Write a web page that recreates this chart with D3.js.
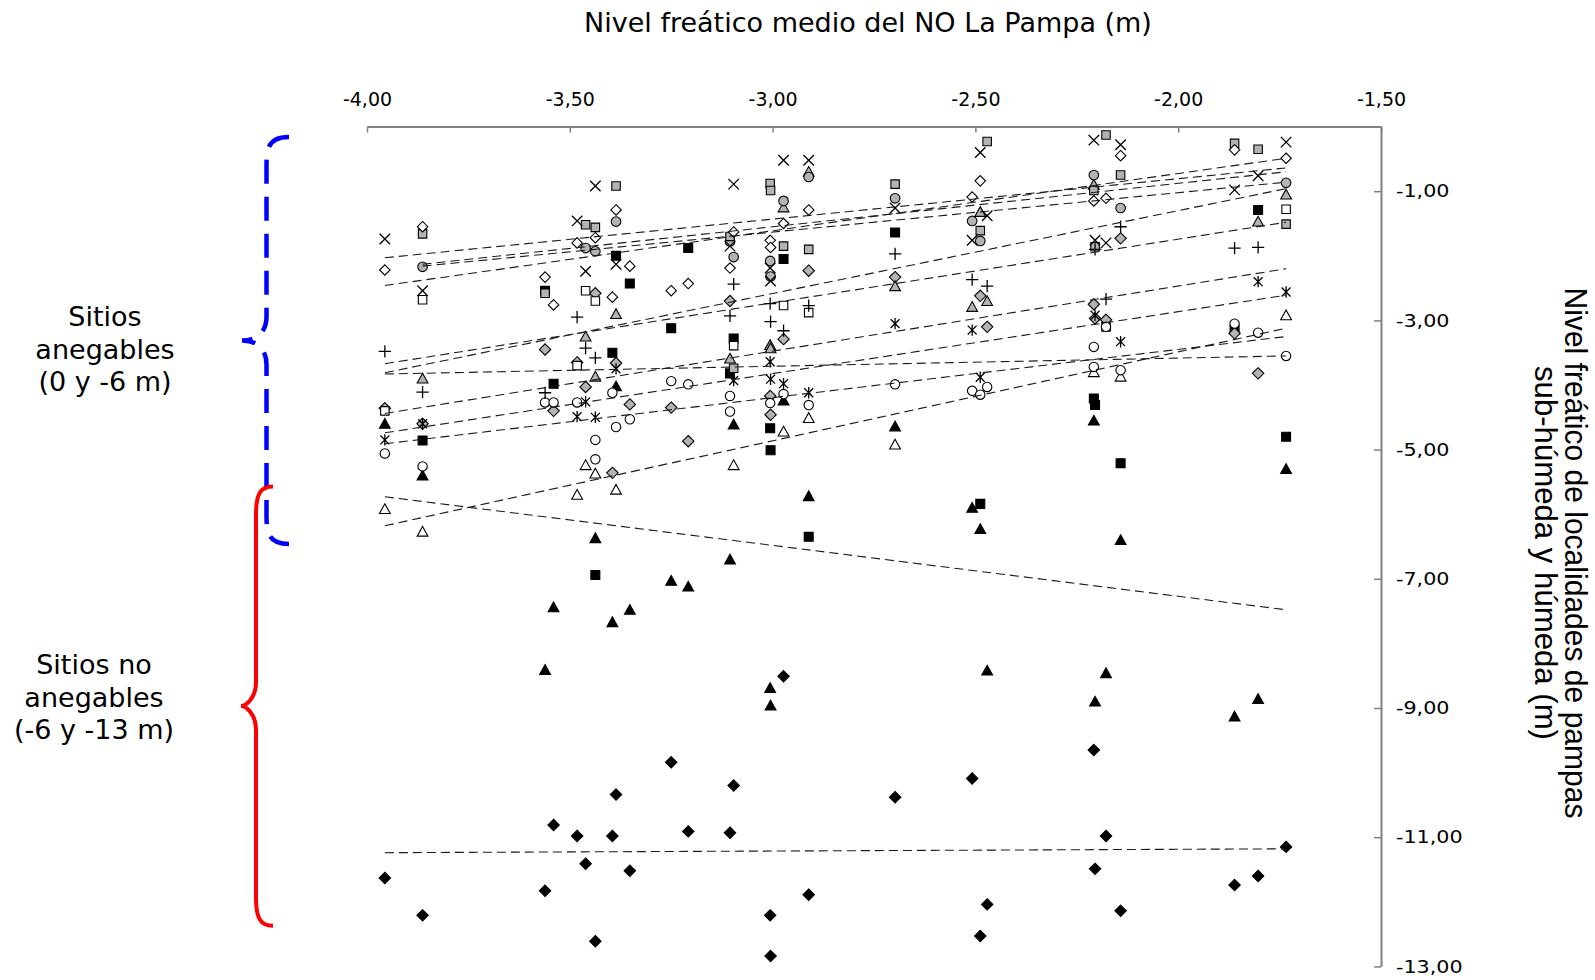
<!DOCTYPE html>
<html>
<head>
<meta charset="utf-8">
<script src="https://cdn.jsdelivr.net/npm/d3@7"></script>
<style>
  body { margin: 0; background: #fff; }
  svg { display: block; }
</style>
</head>
<body>
<svg id="chart" width="1595" height="980"></svg>
<script>
// Mean water table of NO La Pampa (m), one value per year
const nivelMedio = [-3.956, -3.863, -3.561, -3.540, -3.482, -3.461, -3.437, -3.395, -3.386, -3.352,
                    -3.250, -3.208, -3.105, -3.096, -3.006, -3.005, -2.973, -2.911, -2.698, -2.508,
                    -2.488, -2.471, -2.208, -2.205, -2.178, -2.142, -1.861, -1.803, -1.734];

// Water table of each locality (m), aligned with nivelMedio
const cruz =            [-1.74, -2.54, null, null, -1.46, -2.24, -0.92, null, -2.13, null, null, null, -1.85, -0.89, -2.19, -2.39, -0.52, -0.52, -1.26, -1.76, -0.40, -1.38, -0.21, -1.76, -1.80, -0.28, -0.98, -0.76, -0.24];
const grisCuadradoA =   [null, -1.66, -2.58, null, null, -1.52, null, null, -0.92, null, null, null, -1.70, null, -0.88, null, -1.85, null, -0.89, null, -1.61, -0.23, -0.99, null, -0.13, null, -0.26, -0.35, null];
const grisCuadradoB =   [null, null, null, null, null, null, -1.56, null, null, null, null, null, null, -3.74, null, -0.99, null, -1.90, null, null, null, null, null, -1.86, null, -0.75, null, null, -1.51];
const rombo =           [-2.22, -1.55, -2.33, -2.76, -1.80, null, -1.72, -2.64, -1.29, -2.16, -2.54, -2.43, -2.19, -1.63, -1.76, -1.87, -1.50, -1.29, null, -1.09, -0.84, null, -1.15, null, -1.11, -0.45, -0.36, null, -0.49];
const grisCirculo =     [null, -2.17, null, null, null, -1.88, -1.93, null, -1.47, null, null, null, -1.78, -2.02, -2.08, -2.32, -1.15, -0.78, -1.11, -1.46, -1.77, null, -0.75, null, null, -1.26, null, null, -0.87];
const negroCuadrado =   [null, -4.86, -2.54, -3.98, null, null, -6.94, -3.50, -2.00, -2.43, -3.12, -1.88, -3.82, -3.28, -4.67, -5.01, -2.05, -6.35, -1.64, null, -5.84, null, -4.21, -4.31, null, -5.21, -3.15, -1.29, -4.80];
const mas =             [-3.48, -4.11, -4.12, null, -2.95, -3.43, -3.58, null, null, null, null, null, -2.93, -2.44, -2.74, -3.02, -3.16, -2.77, -1.97, -2.37, null, -2.47, null, -1.90, -2.67, -1.55, -1.88, -1.87, null];
const cuadrado =        [-4.40, -2.68, null, null, -3.70, -2.54, -2.70, null, null, null, null, null, null, -3.39, null, null, -2.77, -2.88, null, null, null, null, null, null, -3.10, null, null, null, -1.28];
const grisTriangulo =   [null, -3.90, null, null, null, -3.25, -3.87, null, -2.90, null, null, null, -3.59, null, -3.38, -3.43, -1.25, -0.70, -2.47, -2.79, -1.32, -2.70, -0.90, null, null, null, null, -1.47, -1.05];
const grisRombo =       [-4.36, -4.60, -3.45, -4.40, -3.65, -4.03, -2.58, -5.36, -3.66, -4.30, -4.35, -4.87, -2.70, null, -4.17, -4.46, -3.29, -2.23, -2.33, null, -2.62, -3.10, -2.75, -2.97, -2.99, -1.73, -3.20, -3.82, null];
const negroTriangulo =  [-4.60, -5.40, -8.41, -7.44, null, null, -6.37, -7.67, -4.02, -7.48, -7.03, -7.12, -6.70, -4.61, -8.69, -8.96, -4.24, -5.72, -4.64, -5.90, -6.23, -8.42, -4.55, -8.90, -8.46, -6.40, -9.13, -8.86, -5.30];
const asterisco =       [-4.85, -4.60, null, null, -4.49, -4.26, -4.50, null, -3.75, null, null, null, null, -3.93, -3.64, -3.91, -3.98, -4.12, -3.05, -3.15, -3.88, null, null, -2.92, null, -3.33, null, -2.40, -2.56];
const circulo =         [-5.06, -5.26, -4.27, -4.27, -4.27, null, -4.85, -4.12, -4.65, -4.53, -3.94, -3.99, -4.17, null, -4.28, null, -4.14, -4.31, -3.99, -4.09, -4.15, -4.03, -3.41, null, -3.10, -3.77, -3.05, -3.19, -3.55];
const circuloB =        [null, null, null, null, null, null, -5.15, null, null, null, null, null, -4.41, null, null, null, null, null, null, null, null, null, -3.72, null, null, null, null, null, null];
const triangulo =       [-5.92, -6.27, null, null, -5.70, -5.24, -5.37, null, -5.62, null, null, null, null, -5.24, null, null, -4.72, -4.51, -4.92, null, null, null, -3.80, null, null, -3.87, null, null, -2.92];
const negroRombo =      [-11.63, -12.21, -11.83, -10.81, -10.98, -11.41, -12.61, -10.98, -10.34, -11.52, -9.84, -10.91, -10.93, -10.20, -12.21, -12.84, -8.51, -11.89, -10.38, -10.09, -12.53, -12.04, -9.65, -11.49, -10.98, -12.14, -11.74, -11.60, -11.15];

// Linear trend lines: start / end x and the fitted values there
const tendDesde  = [-3.956, -3.863, -3.863, -3.956, -3.956, -3.956, -3.956, -3.956, -3.956, -3.956, -3.956, -3.956, -3.956];
const tendHasta  = [-1.734, -1.734, -1.734, -1.734, -1.734, -1.734, -1.734, -1.734, -1.734, -1.734, -1.734, -1.734, -1.734];
const tendInicio = [-2.03, -2.13, -2.16, -2.46, -3.81, -3.67, -4.44, -4.74, -4.91, -6.18, -3.83, -5.73, -11.24];
const tendFin    = [-0.64, -0.70, -0.86, -0.49, -0.96, -1.48, -2.20, -2.61, -3.25, -3.12, -3.55, -7.48, -11.18];

// Axis ticks
const ticksX = [-4, -3.5, -3, -2.5, -2, -1.5];
const ticksY = [-1, -3, -5, -7, -9, -11, -13];

const svg = d3.select("#chart");
const x = d3.scaleLinear().domain([-4, -1.5]).range([367, 1381]);
const y = d3.scaleLinear().domain([0, -13]).range([126.6, 966.4]);

const loc = d3.formatLocale({decimal: ",", thousands: ".", grouping: [3], currency: ["", ""], minus: "-"});
const fmt = loc.format(".2f");

// Marker shapes as custom d3 symbol types
const formas = {
  cuadrado: { draw(c, s) { const h = Math.sqrt(s) / 2; c.rect(-h, -h, 2 * h, 2 * h); } },
  rombo:    { draw(c, s) { const h = Math.sqrt(s) / 2; c.moveTo(0, -h); c.lineTo(h, 0); c.lineTo(0, h); c.lineTo(-h, 0); c.closePath(); } },
  circulo:  { draw(c, s) { const r = Math.sqrt(s) / 2; c.moveTo(r, 0); c.arc(0, 0, r, 0, 2 * Math.PI); } },
  triangulo:{ draw(c, s) { const h = Math.sqrt(s) / 2; c.moveTo(0, -h * 1.05); c.lineTo(h * 1.08, h * 0.9); c.lineTo(-h * 1.08, h * 0.9); c.closePath(); } },
  cruz:     { draw(c, s) { const h = Math.sqrt(s) / 2; c.moveTo(-h, -h); c.lineTo(h, h); c.moveTo(-h, h); c.lineTo(h, -h); } },
  mas:      { draw(c, s) { const h = Math.sqrt(s) / 2; c.moveTo(-h, 0); c.lineTo(h, 0); c.moveTo(0, -h); c.lineTo(0, h); } },
  asterisco:{ draw(c, s) { const h = Math.sqrt(s) / 2, k = h * 0.78; c.moveTo(-k, -k); c.lineTo(k, k); c.moveTo(-k, k); c.lineTo(k, -k); c.moveTo(0, -h); c.lineTo(0, h); } }
};

const GRIS = "#b3b3b3";
const series = [
  { v: negroRombo,     f: "rombo",     t: 130, fill: "#000",  stroke: "#000" },
  { v: negroTriangulo, f: "triangulo", t: 100, fill: "#000",  stroke: "#000" },
  { v: negroCuadrado,  f: "cuadrado",  t: 80,  fill: "#000",  stroke: "#000" },
  { v: grisRombo,      f: "rombo",     t: 130, fill: GRIS,    stroke: "#000" },
  { v: grisTriangulo,  f: "triangulo", t: 100, fill: GRIS,    stroke: "#000" },
  { v: grisCirculo,    f: "circulo",   t: 92,  fill: GRIS,    stroke: "#000" },
  { v: grisCuadradoA,  f: "cuadrado",  t: 72,  fill: GRIS,    stroke: "#000" },
  { v: grisCuadradoB,  f: "cuadrado",  t: 72,  fill: GRIS,    stroke: "#000" },
  { v: cuadrado,       f: "cuadrado",  t: 72,  fill: "#fff",  stroke: "#000" },
  { v: triangulo,      f: "triangulo", t: 100, fill: "#fff",  stroke: "#000" },
  { v: circulo,        f: "circulo",   t: 88,  fill: "#fff",  stroke: "#000" },
  { v: circuloB,       f: "circulo",   t: 88,  fill: "#fff",  stroke: "#000" },
  { v: rombo,          f: "rombo",     t: 110, fill: "#fff",  stroke: "#000" },
  { v: mas,            f: "mas",       t: 150, fill: "none",  stroke: "#000" },
  { v: asterisco,      f: "asterisco", t: 130, fill: "none",  stroke: "#000" },
  { v: cruz,           f: "cruz",      t: 110, fill: "none",  stroke: "#000" }
];

// Points
const gPts = svg.append("g");
series.forEach(s => {
  const datos = nivelMedio.map((xv, i) => ({ x: xv, y: s.v[i] })).filter(d => d.y !== null);
  const sym = d3.symbol().type(formas[s.f]).size(s.t);
  gPts.append("g").selectAll("path").data(datos).join("path")
    .attr("transform", d => `translate(${x(d.x)},${y(d.y)})`)
    .attr("d", sym)
    .attr("fill", s.fill)
    .attr("stroke", s.stroke)
    .attr("stroke-width", s.fill === "none" ? 1.3 : 1.1);
});

// Trend lines
svg.append("g").selectAll("line").data(tendInicio.map((v, i) => i)).join("line")
  .attr("x1", i => x(tendDesde[i])).attr("y1", i => y(tendInicio[i]))
  .attr("x2", i => x(tendHasta[i])).attr("y2", i => y(tendFin[i]))
  .attr("stroke", "#1a1a1a").attr("stroke-width", 1.1)
  .attr("stroke-dasharray", "9,5");

// Top x axis (ticks pointing into the plot)
const axX = svg.append("g").attr("transform", `translate(0,${y(0)})`)
  .call(d3.axisTop(x).tickValues(ticksX).tickFormat(fmt).tickSize(-6).tickSizeOuter(0).tickPadding(21));
axX.select(".domain").attr("stroke", "#808080").attr("stroke-width", 2);
axX.selectAll(".tick line").attr("stroke", "#808080").attr("stroke-width", 1.5);
axX.selectAll("text").attr("font-family", "DejaVu Sans, Verdana, sans-serif").attr("font-size", 19).attr("fill", "#000");

// Right y axis (ticks pointing into the plot)
const axY = svg.append("g").attr("transform", `translate(${x(-1.5)},0)`)
  .call(d3.axisRight(y).tickValues(ticksY).tickFormat(fmt).tickSize(-7).tickSizeOuter(0).tickPadding(15));
axY.select(".domain").attr("stroke", "#808080").attr("stroke-width", 2);
axY.selectAll(".tick line").attr("stroke", "#808080").attr("stroke-width", 1.5);
axY.selectAll("text")
  .attr("font-family", "DejaVu Sans, Verdana, sans-serif").attr("font-size", 18).attr("fill", "#000")
  .attr("x", 15 / 1.15).attr("transform", "scale(1.15,1)");

// Titles
svg.append("text").attr("x", 868).attr("y", 32).attr("text-anchor", "middle")
  .attr("font-family", "DejaVu Sans, Verdana, sans-serif").attr("font-size", 27)
  .text("Nivel freático medio del NO La Pampa (m)");

const tituloY = ["Nivel freático de localidades de pampas", "sub-húmeda y húmeda (m)"];
const largos = [531, 374];
tituloY.forEach((t, i) => {
  svg.append("text")
    .attr("transform", `translate(${1576 - i * 30},553) rotate(90)`)
    .attr("text-anchor", "middle").attr("dy", "0.35em")
    .attr("font-family", "Liberation Sans, Arial, sans-serif").attr("font-size", 31)
    .attr("textLength", largos[i]).attr("lengthAdjust", "spacingAndGlyphs")
    .text(t);
});

// Side annotations
const notas = [
  { lineas: ["Sitios", "anegables", "(0 y -6 m)"], cx: 105, y0: 326 },
  { lineas: ["Sitios no", "anegables", "(-6 y -13 m)"], cx: 94, y0: 674 }
];
notas.forEach(n => {
  n.lineas.forEach((l, i) => {
    svg.append("text").attr("x", n.cx).attr("y", n.y0 + i * 32.5).attr("text-anchor", "middle")
      .attr("font-family", "DejaVu Sans, Verdana, sans-serif").attr("font-size", 27)
      .text(l);
  });
});

// Curly braces marking the two depth ranges
function llave(xv, top, bot, tipX, endX) {
  const m = (top + bot) / 2;
  const p = d3.path();
  p.moveTo(endX, top);
  p.bezierCurveTo(xv + 4, top, xv, top + 8, xv, top + 28);
  p.lineTo(xv, m - 24);
  p.bezierCurveTo(xv, m - 8, xv - 10, m, tipX, m);
  p.bezierCurveTo(xv - 10, m, xv, m + 8, xv, m + 24);
  p.lineTo(xv, bot - 28);
  p.bezierCurveTo(xv, bot - 8, xv + 4, bot, endX, bot);
  return p.toString();
}
svg.append("path").attr("d", llave(266.5, y(-0.16), y(-6.46), 242, 289))
  .attr("fill", "none").attr("stroke", "#0000ff").attr("stroke-width", 4.5)
  .attr("stroke-dasharray", "24,13");
svg.append("path").attr("d", llave(256, y(-5.57), y(-12.37), 241, 273))
  .attr("fill", "none").attr("stroke", "#ff0000").attr("stroke-width", 4);
</script>
</body>
</html>
